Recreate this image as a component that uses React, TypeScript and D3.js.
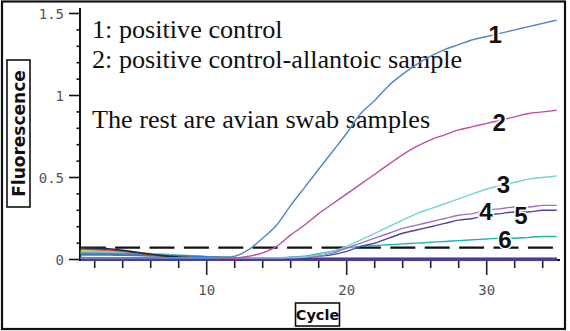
import React from "react";
import * as d3 from "d3";

const cycles = [1,2,3,4,5,6,7,8,9,10,11,12,13,14,15,16,17,18,19,20,21,22,23,24,25,26,27,28,29,30,31,32,33,34,35];

const curve1 = [0.012,0.011,0.01,0.01,0.009,0.009,0.008,0.008,0.008,0.008,0.01,0.02,0.06,0.13,0.21,0.33,0.44,0.55,0.66,0.77,0.89,0.97,1.06,1.13,1.19,1.24,1.28,1.31,1.34,1.36,1.38,1.4,1.42,1.44,1.46];
const curve2 = [0.012,0.011,0.01,0.01,0.009,0.009,0.008,0.008,0.008,0.008,0.008,0.009,0.02,0.04,0.08,0.15,0.21,0.28,0.34,0.4,0.46,0.52,0.58,0.64,0.69,0.73,0.76,0.79,0.81,0.83,0.85,0.87,0.89,0.9,0.91];
const curve3 = [0.01,0.01,0.01,0.01,0.01,0.01,0.01,0.01,0.01,0.01,0.01,0.01,0.01,0.01,0.01,0.012,0.015,0.03,0.05,0.08,0.12,0.16,0.2,0.24,0.28,0.31,0.34,0.37,0.4,0.43,0.45,0.47,0.49,0.5,0.51];
const curve4 = [0.01,0.01,0.01,0.01,0.01,0.01,0.01,0.01,0.01,0.01,0.01,0.01,0.01,0.01,0.01,0.012,0.015,0.02,0.04,0.07,0.1,0.13,0.16,0.19,0.21,0.23,0.25,0.27,0.28,0.3,0.31,0.32,0.32,0.33,0.33];
const curve5 = [0.008,0.008,0.008,0.008,0.008,0.008,0.008,0.008,0.008,0.008,0.008,0.008,0.008,0.008,0.008,0.01,0.012,0.02,0.03,0.05,0.08,0.1,0.13,0.16,0.18,0.2,0.22,0.24,0.25,0.27,0.28,0.29,0.29,0.3,0.3];
const curve6 = [0.01,0.01,0.01,0.01,0.01,0.01,0.01,0.01,0.01,0.01,0.01,0.01,0.01,0.01,0.01,0.015,0.02,0.035,0.05,0.07,0.08,0.085,0.09,0.095,0.1,0.105,0.11,0.115,0.12,0.125,0.13,0.13,0.135,0.14,0.14];

const baseRed = [0.064,0.062,0.058,0.05,0.04,0.03,0.02,0.014,0.01,0.008,0.006,0.005,0.005,0.005,0.004,0.004,0.004,0.004,0.004,0.004,0.004,0.004,0.004,0.004,0.004,0.004,0.004,0.004,0.004,0.004,0.004,0.004,0.004,0.004,0.004];
const baseNavy = [0.072,0.07,0.066,0.056,0.044,0.032,0.022,0.014,0.01,0.007,0.006,0.005,0.005,0.004,0.004,0.004,0.004,0.004,0.004,0.004,0.004,0.004,0.004,0.004,0.004,0.004,0.004,0.004,0.004,0.004,0.004,0.004,0.004,0.004,0.004];
const baseYellow = [0.05,0.05,0.048,0.045,0.04,0.034,0.026,0.02,0.014,0.01,0.008,0.006,0.005,0.005,0.005,0.004,0.004,0.004,0.004,0.004,0.004,0.004,0.004,0.004,0.004,0.004,0.004,0.004,0.004,0.004,0.004,0.004,0.004,0.004,0.004];
const baseLightGreen = [0.045,0.044,0.042,0.04,0.036,0.032,0.028,0.024,0.02,0.016,0.012,0.009,0.007,0.006,0.005,0.005,0.005,0.005,0.005,0.005,0.005,0.005,0.005,0.005,0.005,0.005,0.005,0.005,0.005,0.005,0.005,0.005,0.005,0.005,0.005];
const baseGreen = [0.036,0.035,0.034,0.032,0.03,0.027,0.024,0.02,0.017,0.014,0.011,0.009,0.007,0.006,0.006,0.005,0.005,0.005,0.005,0.005,0.005,0.005,0.005,0.005,0.005,0.005,0.005,0.005,0.005,0.005,0.005,0.005,0.005,0.005,0.005];
const baseBlue = [0.03,0.03,0.029,0.028,0.026,0.024,0.022,0.02,0.017,0.014,0.011,0.008,0.006,0.005,0.004,0.004,0.004,0.004,0.004,0.004,0.004,0.004,0.004,0.004,0.004,0.004,0.004,0.004,0.004,0.004,0.004,0.004,0.004,0.004,0.004];
const baseSky = [0.04,0.04,0.038,0.036,0.034,0.032,0.03,0.026,0.02,0.016,0.012,0.009,0.007,0.006,0.005,0.005,0.005,0.005,0.005,0.005,0.005,0.005,0.005,0.005,0.005,0.005,0.005,0.005,0.005,0.005,0.005,0.005,0.005,0.005,0.005];
const negatives = [0,0,0,0,0,0,0,0,0,0,0,0,0,0,0,0,0,0,0,0,0,0,0,0,0,0,0,0,0,0,0,0,0,0,0];

const threshold = 0.072;

const yTickValues = [0,0.1,0.2,0.3,0.4,0.5,0.6,0.7,0.8,0.9,1.0,1.1,1.2,1.3,1.4,1.5];
const yTickLabels = ["0","0.5","1","1.5"];
const yLabelValues = [0,0.5,1,1.5];
const xTickValues = [2,4,6,8,10,12,14,16,18,20,22,24,26,28,30,32,34];
const xLabelValues = [10,20,30];
const xTickLabels = ["10","20","30"];

const annotationLines = ["1: positive control","2: positive control-allantoic sample","The rest are avian swab samples"];
const curveLabels = ["1","2","3","4","5","6"];
const curveLabelCycles = [30.6,30.9,31.2,29.95,32.45,31.3];
const curveLabelValues = [1.375,0.838,0.46,0.29,0.271,0.119];

export default function App() {
  const x = d3.scaleLinear().domain([1, 35]).range([80.7, 556.7]);
  const y = d3.scaleLinear().domain([0, 1.5]).range([259.5, 13.5]);
  const line = d3
    .line<number>()
    .x((_, i) => x(cycles[i]))
    .y((d) => y(d))
    .curve(d3.curveMonotoneX);

  const baseSeries: [number[], string, number][] = [
    [baseYellow, "#c9b448", 2.2],
    [baseLightGreen, "#9bd67a", 2.2],
    [baseSky, "#7ab8e8", 2],
    [baseGreen, "#4fae4f", 2.2],
    [baseBlue, "#3f78c8", 2.2],
    [baseRed, "#c8402a", 1.6],
    [baseNavy, "#1a2a5a", 1.6],
  ];
  const mainSeries: [number[], string][] = [
    [curve6, "#1fb3b3"],
    [curve5, "#4848a8"],
    [curve4, "#a470c2"],
    [curve3, "#74d4d0"],
    [curve2, "#be4ea0"],
    [curve1, "#4f86c8"],
  ];

  return (
    <svg
      width={570}
      height={331}
      style={{ position: "absolute", left: 0, top: 0, display: "block", background: "#fff" }}
    >
      <rect x={2} y={1.5} width={563} height={327.5} fill="#fff" stroke="#111" strokeWidth={2.2} />

      {annotationLines.map((t, i) => (
        <text
          key={t}
          x={92}
          y={[38.3, 68.3, 128.3][i]}
          fontFamily="'Liberation Serif', 'Times New Roman', serif"
          fontSize={26.2}
          fill="#111"
        >
          {t}
        </text>
      ))}

      <line
        x1={x(1)}
        x2={x(35)}
        y1={y(threshold)}
        y2={y(threshold)}
        stroke="#111"
        strokeWidth={2.2}
        strokeDasharray="25 9.4"
      />

      <line x1={80} x2={80} y1={8} y2={261} stroke="#111" strokeWidth={2} />
      {yTickValues.map((v) => {
        const major = yLabelValues.some((m) => Math.abs(m - v) < 1e-6);
        return (
          <line key={v} x1={major ? 69 : 76.5} x2={80} y1={y(v)} y2={y(v)} stroke="#111" strokeWidth={1.6} />
        );
      })}
      {yLabelValues.map((v, i) => (
        <text
          key={v}
          x={64}
          y={y(v) + 5}
          textAnchor="end"
          fontFamily="'DejaVu Sans Mono', monospace"
          fontSize={14}
          fill="#555"
        >
          {yTickLabels[i]}
        </text>
      ))}

      <line x1={79} x2={560} y1={260} y2={260} stroke="#111" strokeWidth={2} />
      {xTickValues.map((c) => {
        const major = xLabelValues.includes(c);
        return (
          <line key={c} x1={x(c)} x2={x(c)} y1={260} y2={major ? 275 : 268} stroke="#222" strokeWidth={1.6} />
        );
      })}
      {xLabelValues.map((c, i) => (
        <text
          key={c}
          x={x(c)}
          y={295}
          textAnchor="middle"
          fontFamily="'DejaVu Sans Mono', monospace"
          fontSize={14}
          fill="#555"
        >
          {xTickLabels[i]}
        </text>
      ))}

      <rect x={295.5} y={303} width={44} height={23} fill="#fff" stroke="#111" strokeWidth={1.6} />
      <text
        x={317.5}
        y={319.5}
        textAnchor="middle"
        fontFamily="'DejaVu Sans', sans-serif"
        fontWeight="bold"
        fontSize={14.5}
        fill="#111"
      >
        Cycle
      </text>
      <rect x={7} y={60} width={23} height={147} fill="#fff" stroke="#111" strokeWidth={1.6} />
      <text
        transform="translate(24.5,133.5) rotate(-90)"
        textAnchor="middle"
        fontFamily="'DejaVu Sans', sans-serif"
        fontWeight="bold"
        fontSize={17}
        fill="#111"
      >
        Fluorescence
      </text>

      {baseSeries.map(([data, color, w], i) => (
        <path key={"b" + i} d={line(data) || ""} fill="none" stroke={color} strokeWidth={w} />
      ))}
      <path d={line(negatives) || ""} fill="none" stroke="#4a3c98" strokeWidth={3.2} />

      {mainSeries.map(([data, color], i) => (
        <path key={"m" + i} d={line(data) || ""} fill="none" stroke={color} strokeWidth={1.4} />
      ))}

      {curveLabels.map((t, i) => (
        <text
          key={"l" + t}
          x={x(curveLabelCycles[i])}
          y={y(curveLabelValues[i]) + 8.5}
          textAnchor="middle"
          fontFamily="'Liberation Sans', Arial, sans-serif"
          fontWeight="bold"
          fontSize={24}
          fill="#111"
          stroke="#fff"
          strokeWidth={3}
          paintOrder="stroke"
        >
          {t}
        </text>
      ))}
    </svg>
  );
}
